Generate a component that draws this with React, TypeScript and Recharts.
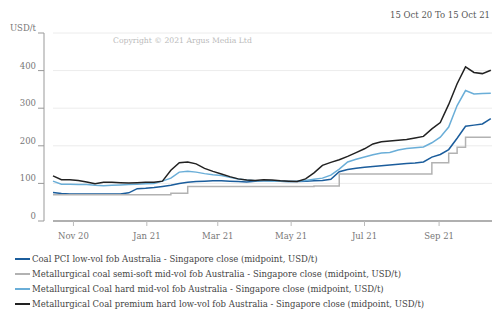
import { CartesianGrid, Line, LineChart, XAxis, YAxis } from "recharts";

// weekly assessment dates (Thursdays)
const dates = [
  "2020-10-15", "2020-10-22", "2020-10-29", "2020-11-05", "2020-11-12", "2020-11-19",
  "2020-11-26", "2020-12-03", "2020-12-10", "2020-12-17", "2020-12-24", "2020-12-31",
  "2021-01-07", "2021-01-14", "2021-01-21", "2021-01-28", "2021-02-04", "2021-02-11",
  "2021-02-18", "2021-02-25", "2021-03-04", "2021-03-11", "2021-03-18", "2021-03-25",
  "2021-04-01", "2021-04-08", "2021-04-15", "2021-04-22", "2021-04-29", "2021-05-06",
  "2021-05-13", "2021-05-20", "2021-05-27", "2021-06-03", "2021-06-10", "2021-06-17",
  "2021-06-24", "2021-07-01", "2021-07-08", "2021-07-15", "2021-07-22", "2021-07-29",
  "2021-08-05", "2021-08-12", "2021-08-19", "2021-08-26", "2021-09-02", "2021-09-09",
  "2021-09-16", "2021-09-23", "2021-09-30", "2021-10-07", "2021-10-14",
];

const pciLowVol = [
  76, 73, 72, 72, 72, 72, 72, 72, 72, 75, 86, 87, 89, 92, 95, 100, 103, 105,
  106, 107, 107, 106, 105, 104, 106, 107, 107, 106, 105, 105, 106, 107, 108, 111,
  131, 137, 140, 143, 145, 147, 149, 151, 153, 154, 157, 170, 177, 190, 220, 252,
  255, 258, 272,
];

const semiSoftMidVol = [
  70, 70, 70, 70, 70, 70, 70, 70, 70, 70, 70, 70, 70, 70, 74, 74, 92, 92,
  92, 92, 92, 92, 92, 92, 92, 92, 92, 92, 92, 92, 92, 93, 93, 93,
  125, 125, 125, 125, 125, 125, 125, 125, 125, 125, 125, 155, 155, 180, 196, 223,
  223, 223, 223,
];

const hardMidVol = [
  106, 98, 98, 97, 97, 95, 94, 95, 96, 97, 98, 99, 100, 106, 114, 130, 132, 130,
  126, 123, 121, 116, 112, 109, 107, 107, 106, 106, 105, 106, 108, 111, 114, 122,
  138, 157, 164, 170, 176, 181, 182, 189, 193, 195, 197, 208, 223, 250, 307, 347,
  338, 339, 340,
];

const premiumHardLowVol = [
  120, 110, 110, 108, 104, 99, 103, 103, 102, 101, 102, 103, 103, 106, 135, 155, 157, 152,
  140, 132, 125, 118, 112, 109, 108, 110, 109, 107, 106, 105, 112, 128, 148, 156,
  163, 172, 182, 192, 205, 211, 213, 215, 217, 221, 225, 245, 262, 310, 365, 410,
  395, 392, 401,
];

const seriesNames = [
  "Coal PCI low-vol fob Australia - Singapore close (midpoint, USD/t)",
  "Metallurgical coal semi-soft mid-vol fob Australia - Singapore close (midpoint, USD/t)",
  "Metallurgical Coal hard mid-vol fob Australia - Singapore close (midpoint, USD/t)",
  "Metallurgical Coal premium hard low-vol fob Australia - Singapore close (midpoint, USD/t)",
];
const seriesColors = ["#1b5d9c", "#b2b2b2", "#6aaed8", "#222222"];

const monthTicks = ["2020-11-01", "2021-01-01", "2021-03-01", "2021-05-01", "2021-07-01", "2021-09-01"];
const valueTicks = [0, 100, 200, 300, 400, 500];
const rangeLabel = "15 Oct 20 To 15 Oct 21";
const copyright = "Copyright © 2021 Argus Media Ltd";

const MONTHS = ["Jan", "Feb", "Mar", "Apr", "May", "Jun", "Jul", "Aug", "Sep", "Oct", "Nov", "Dec"];
const toTime = (s: string) => Date.parse(s + "T00:00:00Z");
const FONT = "'DejaVu Serif', serif";
const FS = 8.5;

const rows = dates.map((d, i) => ({
  t: toTime(d),
  pci: pciLowVol[i],
  semi: semiSoftMidVol[i],
  hard: hardMidVol[i],
  premium: premiumHardLowVol[i],
}));

function ValueTick({ x, y, payload }: any) {
  const label = payload.value === 500 ? "USD/t" : String(payload.value);
  return (
    <g>
      <line x1={x - 6} x2={x} y1={y} y2={y} stroke="#999" />
      <text x={x - 8} y={y - 2} textAnchor="end" fontSize={FS} fontFamily={FONT} fill="#777">
        {label}
      </text>
    </g>
  );
}

function DateTick({ x, y, payload }: any) {
  const d = new Date(payload.value);
  const label = MONTHS[d.getUTCMonth()] + " " + String(d.getUTCFullYear()).slice(2);
  return (
    <text x={x} y={y + 12.5} textAnchor="middle" fontSize={FS} fontFamily={FONT} fill="#777">
      {label}
    </text>
  );
}

const keys = ["pci", "semi", "hard", "premium"];

export default function App() {
  return (
    <div style={{ position: "absolute", left: 0, top: 0, width: 500, height: 333, background: "#fff", fontFamily: FONT }}>
      <LineChart width={500} height={333} data={rows} margin={{ top: 33, right: 8, bottom: 92, left: 0 }}>
        <CartesianGrid horizontal vertical={false} stroke="#ececec" yAxisId="main" />
        {/* empty spacer axis keeps a small gap between the value axis line and the plot */}
        <YAxis yAxisId={0} width={9} axisLine={false} tickLine={false} tick={false} />
        <YAxis
          yAxisId="main"
          domain={[0, 500]}
          ticks={valueTicks}
          width={44}
          tickSize={0}
          tickMargin={0}
          tickLine={false}
          axisLine={{ stroke: "#999" }}
          tick={<ValueTick />}
          interval={0}
        />
        <XAxis
          dataKey="t"
          type="number"
          scale="time"
          domain={[toTime("2020-10-15"), toTime("2021-10-15")]}
          ticks={monthTicks.map(toTime)}
          height={20}
          tickSize={5}
          tickMargin={0}
          axisLine={{ stroke: "#999", strokeWidth: 1.5 }}
          tickLine={{ stroke: "#bbb" }}
          tick={<DateTick />}
          interval={0}
        />
        {keys.map((k, i) => (
          <Line
            key={k}
            yAxisId="main"
            dataKey={k}
            type={k === "semi" ? "stepAfter" : "linear"}
            stroke={seriesColors[i]}
            strokeWidth={1.5}
            dot={false}
            isAnimationActive={false}
          />
        ))}
      </LineChart>
      <div style={{ position: "absolute", right: 10, top: 11, fontSize: FS, lineHeight: `${FS}px`, color: "#555" }}>
        {rangeLabel}
      </div>
      <div style={{ position: "absolute", left: 113, top: 36.5, fontSize: 7.7, lineHeight: "7.7px", color: "#bbb" }}>
        {copyright}
      </div>
      <div style={{ position: "absolute", left: 15, top: 251.5 }}>
        {seriesNames.map((name, i) => (
          <div key={name} style={{ display: "flex", alignItems: "center", height: 15 }}>
            <span style={{ display: "inline-block", width: 15, height: 2, background: seriesColors[i], marginRight: 2 }} />
            <span style={{ fontSize: FS, color: "#444", whiteSpace: "nowrap" }}>{name}</span>
          </div>
        ))}
      </div>
    </div>
  );
}
